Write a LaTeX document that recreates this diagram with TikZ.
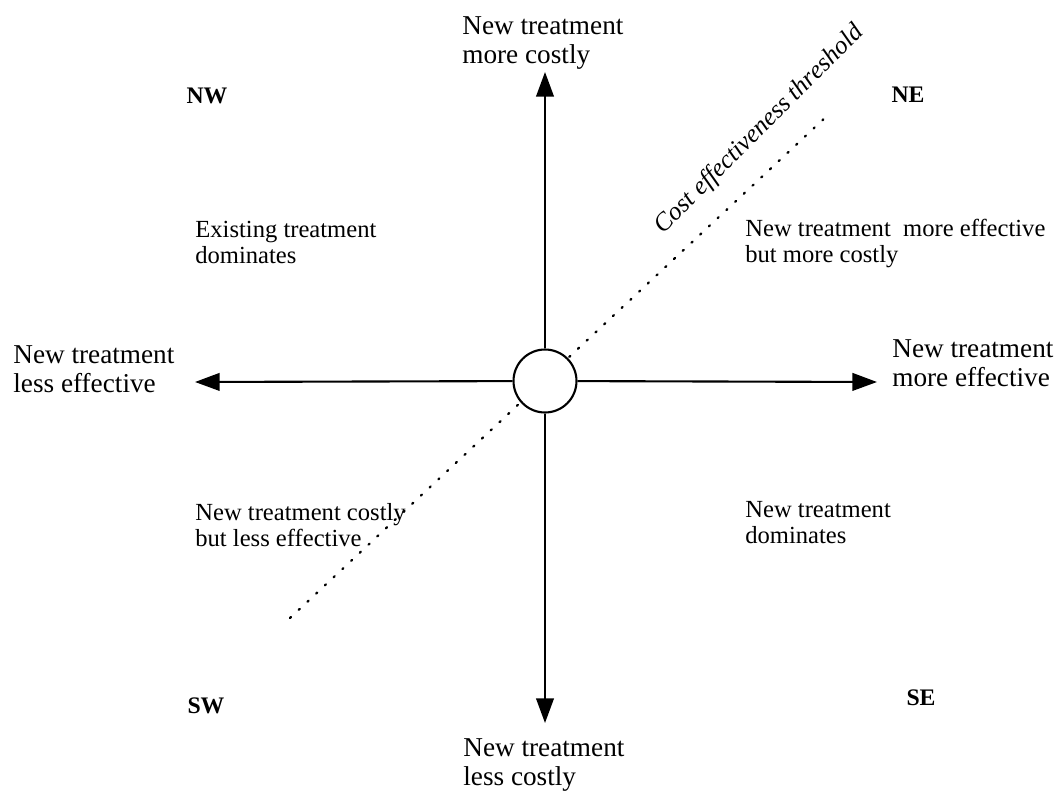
\documentclass[tikz,border=0pt]{standalone}
\usepackage{fontspec}
\setmainfont{Liberation Serif}
\usetikzlibrary{arrows.meta,shapes}

\begin{document}
\begin{tikzpicture}[x=0.02cm, y=-0.02cm,
    axislabel/.style={align=left, inner sep=0pt, anchor=north west, font=\fontsize{15.5}{16.5}\selectfont},
    quadlabel/.style={align=left, inner sep=0pt, anchor=north west, font=\fontsize{14}{14.8}\selectfont},
    corner/.style={inner sep=0pt, font=\fontsize{13.5}{14}\selectfont\bfseries},
    axis/.style={line width=1.2pt, -{Triangle[length=14pt,width=10pt]}}]
    \useasboundingbox (0,0) rectangle (1061,804);

    % axis tips
    \coordinate (up) at (545,72);
    \coordinate (down) at (545,723);
    \coordinate (left) at (195,382);
    \coordinate (right) at (877,382);

    % threshold line, under the circle
    \coordinate (thlo) at (290,618);
    \coordinate (thhi) at (828,115);
    \draw[line width=1.3pt, line cap=round, dash pattern=on 0.8pt off 6pt] (thlo) -- (thhi);
    \node (thlabel) [rotate=45, anchor=base, inner sep=0pt, font=\fontsize{14.5}{15}\selectfont\itshape] at (764,134) {Cost effectiveness threshold};

    \node (origin) [circle, draw, fill=white, line width=1.2pt, minimum size=1.26cm, inner sep=0pt] at (545,381) {};

    \draw[axis] (origin) -- (up);
    \draw[axis] (origin) -- (down);
    \draw[axis] (origin) -- (left);
    \draw[axis] (origin) -- (right);

    % axis labels
    \node (costup) [axislabel] at (462,16) {New treatment\\more costly};
    \node (costdown) [axislabel] at (463,738) {New treatment\\less costly};
    \node (effless) [axislabel] at (13,345) {New treatment\\less effective};
    \node (effmore) [axislabel] at (892,339) {New treatment\\more effective};

    % quadrants
    \node (nw) [corner] at (207,96) {NW};
    \node (ne) [corner] at (908,95) {NE};
    \node (sw) [corner] at (206,706) {SW};
    \node (se) [corner] at (921,698) {SE};
    \node (nwtext) [quadlabel] at (195,221) {Existing treatment\\dominates};
    \node (netext) [quadlabel] at (745,219) {New treatment\ \ more effective\\but more costly};
    \node (swtext) [quadlabel] at (195,503) {New treatment costly\\but less effective};
    \node (setext) [quadlabel] at (745,501) {New treatment\\dominates};
\end{tikzpicture}
\end{document}
